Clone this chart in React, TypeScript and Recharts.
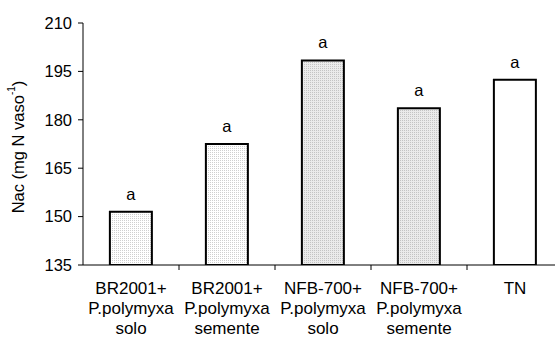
import { Bar, BarChart, Cell, LabelList, XAxis, YAxis } from "recharts";

const treatments = [
  "BR2001+\nP.polymyxa\nsolo",
  "BR2001+\nP.polymyxa\nsemente",
  "NFB-700+\nP.polymyxa\nsolo",
  "NFB-700+\nP.polymyxa\nsemente",
  "TN",
];
const nac = [151.5, 172.5, 198.4, 183.6, 192.4];
const letters = ["a", "a", "a", "a", "a"];
const yTicks = [135, 150, 165, 180, 195, 210];

const barFills = [
  "url(#dotsLight)",
  "url(#dotsLight)",
  "url(#dotsDark)",
  "url(#dotsDark)",
  "#ffffff",
];

const data = treatments.map((name, i) => ({
  name,
  nac: nac[i],
  letter: letters[i],
}));

const FONT = "'Liberation Sans', Arial, sans-serif";
const BAND = 96; // plot width 480 / 5 categories

function TreatmentTick(props: any) {
  const { x, y, payload, index } = props;
  const lines = String(payload.value).split("\n");
  return (
    <g>
      {index > 0 && (
        <line
          x1={x - BAND / 2}
          x2={x - BAND / 2}
          y1={y}
          y2={y + 5}
          stroke="#000"
        />
      )}
      {lines.map((ln, i) => (
        <text
          key={i}
          x={x}
          y={y + 29 + i * 20}
          textAnchor="middle"
          fontFamily={FONT}
          fontSize={17}
          fill="#000"
        >
          {ln}
        </text>
      ))}
    </g>
  );
}

function YLabel(props: any) {
  const vb = props.viewBox || { x: 0, y: 23, width: 83, height: 242 };
  const cx = vb.x + 18;
  const cy = vb.y + vb.height / 2 + 3;
  return (
    <text
      x={cx}
      y={cy}
      transform={`rotate(-90, ${cx}, ${cy})`}
      textAnchor="middle"
      dominantBaseline="central"
      fontFamily={FONT}
      fontSize={16.5}
      fill="#000"
    >
      Nac (mg N vaso
      <tspan fontSize={10} dy={-7}>
        -1
      </tspan>
      <tspan dy={7}>)</tspan>
    </text>
  );
}

export default function App() {
  return (
    <div
      style={{
        position: "absolute",
        left: 0,
        top: 0,
        width: 555,
        height: 338,
        overflow: "hidden",
        background: "#fff",
      }}
    >
      <BarChart
        width={570}
        height={338}
        data={data}
        margin={{ top: 23, right: 7, left: 0, bottom: 0 }}
        barCategoryGap="28%"
      >
        <defs>
          <pattern
            id="dotsLight"
            width={2}
            height={2}
            patternUnits="userSpaceOnUse"
          >
            <rect width={2} height={2} fill="#ffffff" />
            <rect width={1} height={1} fill="#cfcfcf" />
          </pattern>
          <pattern
            id="dotsDark"
            width={2}
            height={2}
            patternUnits="userSpaceOnUse"
          >
            <rect width={2} height={2} fill="#ebebeb" />
            <rect width={1} height={1} fill="#c4c4c4" />
          </pattern>
        </defs>
        <XAxis
          dataKey="name"
          height={73}
          interval={0}
          tickLine={false}
          tickSize={0}
          tickMargin={0}
          axisLine={{ stroke: "#000" }}
          tick={<TreatmentTick />}
        />
        <YAxis
          width={83}
          domain={[135, 210]}
          ticks={yTicks}
          allowDataOverflow
          tickSize={5}
          tickMargin={6}
          axisLine={{ stroke: "#000" }}
          tickLine={{ stroke: "#000" }}
          tick={{ fill: "#000", fontSize: 16.5, fontFamily: FONT }}
          label={<YLabel />}
        />
        <Bar
          dataKey="nac"
          stroke="#000"
          strokeWidth={2}
          isAnimationActive={false}
        >
          {data.map((_, i) => (
            <Cell key={i} fill={barFills[i]} />
          ))}
          <LabelList
            dataKey="letter"
            position="top"
            offset={12}
            fill="#000"
            fontSize={16.5}
            fontFamily={FONT}
          />
        </Bar>
      </BarChart>
    </div>
  );
}
